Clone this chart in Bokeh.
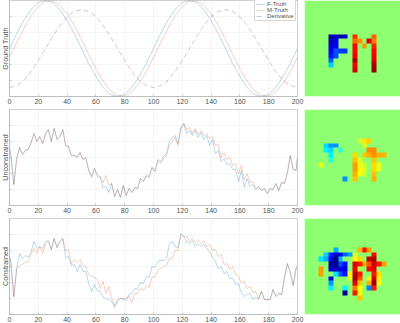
import numpy as np
from bokeh.plotting import figure
from bokeh.layouts import gridplot
from bokeh.models import FixedTicker, LinearColorMapper, Legend, LegendItem
from bokeh.embed import file_html
from bokeh.resources import INLINE

# ---------- line data (arbitrary height units, axis 0..96) ----------
truth_x = list(range(0, 205, 5))
f_truth = [48,63,76,87,94,96,94,87,76,63,48,33,20,9,2,0,2,9,20,33,
           48,63,76,87,94,96,94,87,76,63,48,33,20,9,2,0,2,9,20,33,48]
m_truth = [39,54,68,81,90,95,96,91,83,71,57,42,28,15,6,1,0,5,13,25,
           39,54,68,81,90,95,96,91,83,71,57,42,28,15,6,1,0,5,13,25,39]
derivative = [9,11,16,25,36,48,60,71,80,85,87,85,80,71,60,48,36,25,16,11,
              9,11,16,25,36,48,60,71,80,85,87,85,80,71,60,48,36,25,16,11,9]

noisy_x = [0] + list(range(1, 200, 2)) + [200]

unc_f = [58,50,21,47,58,51,55,56,63,72,
         64,69,62,72,76,64,77,66,69,76,
         60,59,50,50,48,53,46,48,35,28,
         37,29,28,18,19,13,22,9,16,8,
         20,10,17,13,18,17,27,24,29,28,
         38,34,46,44,49,52,64,68,70,62,
         78,82,72,75,70,75,68,73,66,70,
         60,66,52,55,44,47,41,42,36,36,
         24,35,18,27,19,21,16,18,15,17,
         12,17,16,22,15,23,22,33,50,36,35,48]
unc_m = [58,50,21,47,58,51,55,56,63,72,
         64,69,62,72,76,64,77,66,69,76,
         60,59,50,50,48,53,46,48,35,30,
         37,31,29,23,30,20,22,9,16,8,
         20,10,17,13,18,17,27,24,31,29,
         38,34,44,42,47,50,60,64,68,60,
         76,82,76,78,72,77,71,75,70,72,
         67,69,60,61,48,53,46,48,40,42,
         32,40,26,32,23,24,17,19,15,17,
         12,17,16,22,15,23,22,33,50,36,35,48]
con_f = [59,51,18,46,61,56,59,57,63,73,
         66,68,66,73,74,65,76,67,73,76,
         57,58,49,50,43,50,43,43,31,23,
         30,24,23,17,16,15,13,7,13,16,
         15,14,20,21,26,25,32,31,38,37,
         48,47,53,54,54,56,70,73,68,67,
         81,78,73,71,74,68,71,68,70,66,
         63,57,53,46,48,41,43,36,36,30,
         31,22,18,20,21,15,17,16,23,15,
         15,15,25,18,21,20,37,51,42,29,46,49]
con_m = [59,51,18,46,49,50,53,52,60,66,
         61,68,61,70,73,65,76,67,73,76,
         64,65,51,55,52,55,49,48,40,38,
         37,35,26,33,21,28,16,9,15,16,
         16,16,18,12,21,21,26,24,29,27,
         38,37,44,46,48,49,56,56,64,64,
         80,78,78,73,76,72,75,71,74,68,
         70,64,65,58,60,50,51,45,48,40,
         38,32,33,26,28,22,23,15,23,15,
         15,15,25,18,21,20,37,51,42,29,46,49]

# ---------- image data (0..1 on the jet scale; 0.515 = the green background) ----------
_ = 0.515
ground_img = [
 [_]*20, [_]*20, [_]*20, [_]*20, [_]*20, [_]*20, [_]*20,
 [_,_,_,_,_,.05,.07,.05,.07,_,.83,_,_,_,.78,_,_,_,_,_],
 [_,_,_,_,_,.05,.10,_,_,_,.77,.73,_,.90,.75,_,_,_,_,_],
 [_,_,_,_,_,.09,.11,_,_,_,.87,_,.73,_,.84,_,_,_,_,_],
 [_,_,_,_,_,.12,.20,.18,.18,_,.87,_,_,_,.87,_,_,_,_,_],
 [_,_,_,_,_,.15,.20,_,_,_,.88,_,_,_,.88,_,_,_,_,_],
 [_,_,_,_,_,.22,_,_,_,_,.96,_,_,_,.90,_,_,_,_,_],
 [_,_,_,_,_,.33,_,_,_,_,.88,_,_,_,.95,_,_,_,_,_],
 [_,_,_,_,_,_,_,_,_,_,.92,_,_,_,.97,_,_,_,_,_],
 [_]*20, [_]*20, [_]*20, [_]*20, [_]*20,
]
unc_img = [
 [_]*20, [_]*20, [_]*20, [_]*20, [_]*20, [_]*20,
 [_,_,_,_,_,_,_,_,_,_,_,.57,.65,.67,_,_,_,_,_,_],
 [_,_,_,_,.34,.27,.27,_,_,_,_,_,.61,_,_,_,_,_,_,_],
 [_,_,_,_,.36,.34,_,.40,_,_,_,_,_,.74,.74,_,_,_,_,_],
 [_,_,_,_,_,.36,_,_,_,_,.66,_,.68,.70,.73,.70,.70,_,_,_],
 [_,_,_,_,_,.42,_,_,_,_,.68,.60,_,_,.68,_,_,_,_,_],
 [_,_,_,.60,_,_,_,_,_,_,.72,.60,.58,_,.66,.60,_,_,_,_],
 [_,_,_,_,_,_,_,_,_,_,.72,.63,.60,_,.66,.60,_,_,_,_],
 [_,_,_,_,_,_,_,_,_,_,.70,.62,.57,_,.68,_,_,_,_,_],
 [_,_,_,_,_,_,_,_,.27,_,.68,_,_,_,.70,_,_,_,_,_],
 [_]*20, [_]*20, [_]*20, [_]*20, [_]*20,
]
con_img = [
 [_]*20, [_]*20, [_]*20, [_]*20, [_]*20, [_]*20,
 [_,_,_,_,_,_,.30,_,_,_,_,.70,.87,.72,_,_,_,_,_,_],
 [_,_,_,_,.33,.15,.08,.12,.22,.28,.60,_,_,_,.87,_,_,_,_,_],
 [_,_,_,.35,.30,.10,.00,.30,_,_,.62,.66,_,.93,.95,_,_,_,_,_],
 [_,_,_,_,_,.03,.02,.20,.14,_,.90,.85,.70,.80,.92,.85,.72,_,_,_],
 [_,_,_,.72,_,.08,.05,.12,.10,_,.88,.55,_,.87,.90,_,_,_,_,_],
 [_,_,_,.72,_,_,.35,.20,.15,.63,.95,.85,_,_,.85,.65,_,_,_,_],
 [_,_,_,_,_,.12,_,_,_,.60,.97,.80,_,.62,.92,.63,_,_,_,_],
 [_,_,_,_,_,.28,_,_,_,_,.90,.68,_,.70,.97,.62,_,_,_,_],
 [_,_,_,_,_,.36,_,_,.37,_,.75,.62,_,.25,.85,_,_,_,_,_],
 [_,_,_,_,_,_,_,_,.02,_,.85,.62,_,_,_,_,_,_,_,_],
 [_,_,_,_,_,_,_,_,_,_,_,.68,_,_,_,_,_,_,_,_],
 [_]*20, [_]*20, [_]*20,
]
x_ticks = list(range(0, 201, 20))
y_ticks = [16, 32, 48, 64, 80]
row_titles = ["Ground Truth", "Unconstrained", "Constrained"]

BLUE, ORANGE, GRAY = "#0072BD", "#D95319", "#404040"
FONT = "Liberation Sans"
LW, LA = 0.5, 0.55

def jet(v):
    c = lambda d: int(255 * max(0, min(1, 1.5 - abs(4 * v - d))))
    return "#%02x%02x%02x" % (c(3), c(2), c(1))
palette = [jet(i / 255) for i in range(256)]
mapper = LinearColorMapper(palette=palette, low=0, high=1)

def line_panel(title, bottom):
    p = figure(frame_width=288, frame_height=96, x_range=(0, 200), y_range=(0, 96),
               output_backend="svg", toolbar_location=None, min_border_left=9,
               min_border_right=7, min_border_top=0, min_border_bottom=bottom,
               background_fill_color="white", border_fill_color="white")
    p.outline_line_color = "#b0b0b0"
    p.outline_line_width = 0.6
    for ax in (p.xaxis[0], p.yaxis[0]):
        ax.major_tick_in, ax.major_tick_out = 2, 0
        ax.minor_tick_line_color = None
        ax.axis_line_color = "#b0b0b0"
        ax.axis_line_width = 0.6
        ax.major_tick_line_color = "#b0b0b0"
        ax.major_tick_line_width = 0.6
    p.xaxis.ticker = FixedTicker(ticks=x_ticks)
    p.yaxis.ticker = FixedTicker(ticks=y_ticks)
    p.xaxis.major_label_text_font_size = "7px"
    p.xaxis.major_label_text_font = FONT
    p.xaxis.major_label_text_color = "#505050"
    p.xaxis.major_label_standoff = 2
    p.yaxis.major_label_overrides = {t: "" for t in y_ticks}
    p.yaxis.major_label_text_font_size = "1px"
    p.yaxis.major_label_standoff = 0
    p.yaxis.axis_label = title
    p.yaxis.axis_label_text_font = FONT
    p.yaxis.axis_label_text_font_style = "normal"
    p.yaxis.axis_label_text_font_size = "7.2px"
    p.yaxis.axis_label_text_color = "#505050"
    p.yaxis.axis_label_text_line_height = 0.9
    p.yaxis.axis_label_standoff = 0
    p.grid.grid_line_color = "#efefef"
    p.grid.grid_line_width = 0.6
    return p

def image_panel(data, bottom):
    p = figure(frame_width=96, frame_height=96, x_range=(0, 20), y_range=(0, 20),
               output_backend="svg", toolbar_location=None, min_border_left=0,
               min_border_right=0, min_border_top=0, min_border_bottom=bottom)
    p.axis.visible = False
    p.grid.visible = False
    p.outline_line_color = None
    p.image(image=[np.flipud(np.array(data, dtype=float))], x=0, y=0, dw=20, dh=20, color_mapper=mapper)
    return p

p1 = line_panel(row_titles[0], 13)
r1 = p1.line(truth_x, f_truth, line_color=BLUE, line_width=LW, line_alpha=LA)
r2 = p1.line(truth_x, m_truth, line_color=ORANGE, line_width=LW, line_alpha=LA)
r3 = p1.line(truth_x, derivative, line_color=GRAY, line_width=LW, line_alpha=0.55, line_dash="5 3")
legend = Legend(items=[LegendItem(label="F-Truth", renderers=[r1]),
                       LegendItem(label="M-Truth", renderers=[r2]),
                       LegendItem(label="Derivative", renderers=[r3])],
                location=(245, 75), margin=0, padding=1, spacing=0,
                glyph_width=9, glyph_height=6, label_height=6, label_standoff=2,
                label_text_font=FONT, label_text_font_size="6px",
                label_text_color="#505050", label_text_line_height=1.0,
                border_line_color="#b0b0b0", border_line_width=0.6)
p1.add_layout(legend)

p2 = line_panel(row_titles[1], 13)
p2.line(noisy_x, unc_f, line_color=BLUE, line_width=LW, line_alpha=LA)
p2.line(noisy_x, unc_m, line_color=ORANGE, line_width=LW, line_alpha=LA)

p3 = line_panel(row_titles[2], 9)
p3.line(noisy_x, con_f, line_color=BLUE, line_width=LW, line_alpha=LA)
p3.line(noisy_x, con_m, line_color=ORANGE, line_width=LW, line_alpha=LA)

im1 = image_panel(ground_img, 13)
im2 = image_panel(unc_img, 13)
im3 = image_panel(con_img, 9)

grid = gridplot([[p1, im1], [p2, im2], [p3, im3]], toolbar_location=None)
grid.styles = {"position": "absolute", "left": "-3px", "top": "0px"}
open("out.html", "w").write(file_html(grid, INLINE))
